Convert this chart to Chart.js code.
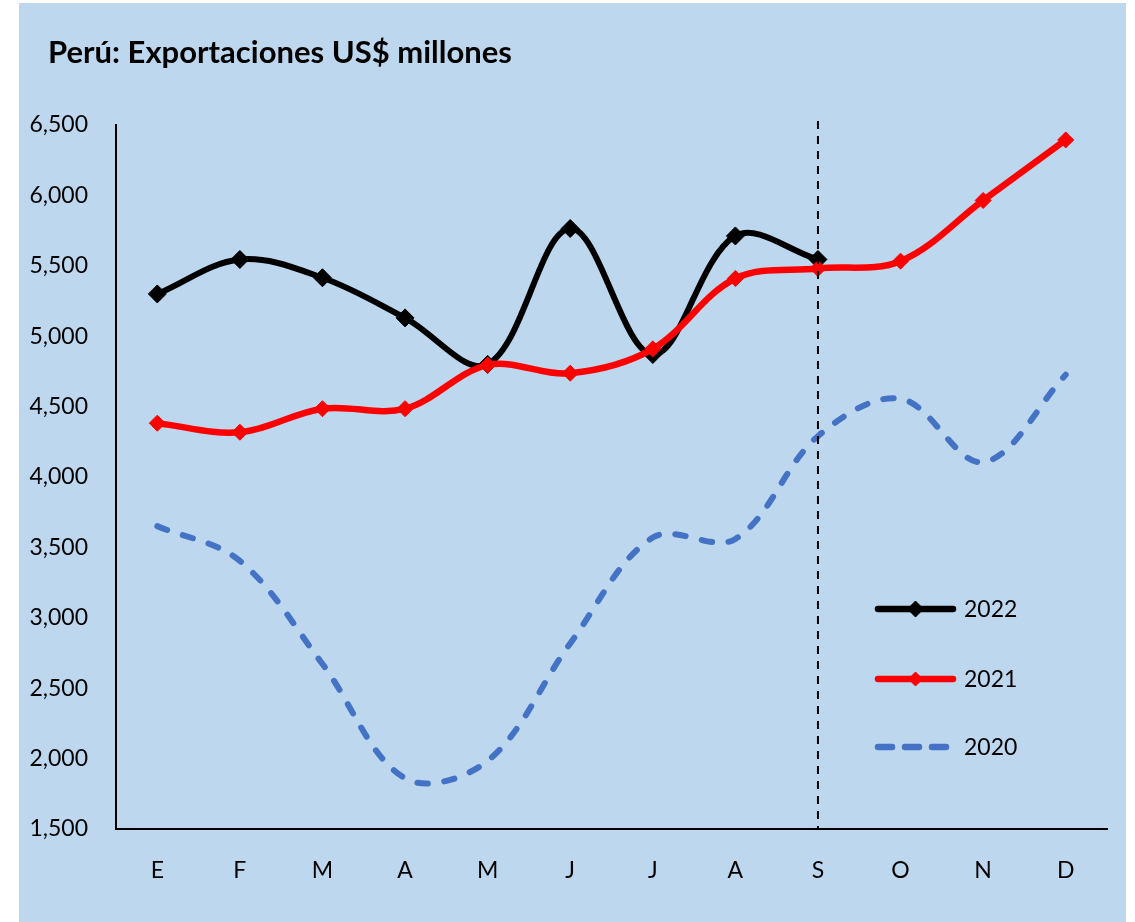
<!DOCTYPE html>
<html>
<head>
<meta charset="utf-8">
<script src="https://cdn.jsdelivr.net/npm/chart.js@4.4.1/dist/chart.umd.min.js"></script>
<style>
  html, body { margin: 0; padding: 0; background: #ffffff; }
  canvas { display: block; }
</style>
</head>
<body>
<canvas id="c" width="1135" height="922"></canvas>
<script>
// ---- data ----
const months = ['E', 'F', 'M', 'A', 'M', 'J', 'J', 'A', 'S', 'O', 'N', 'D'];
const exports2022 = [5300, 5545, 5415, 5130, 4800, 5765, 4870, 5712, 5545, null, null, null];
const exports2021 = [4382, 4318, 4485, 4485, 4795, 4737, 4910, 5410, 5481, 5533, 5964, 6394];
const exports2020 = [3651, 3404, 2672, 1860, 1984, 2818, 3570, 3560, 4290, 4556, 4105, 4726];
const seriesNames = ['2022', '2021', '2020'];
const yMin = 1500, yMax = 6500, yStep = 500;
const markerMonthIndex = 8; // S: último mes con datos 2022
const titleText = 'Perú: Exportaciones US$ millones';

const FONT = 'Lato, "Open Sans", "Liberation Sans", sans-serif';

const bgPlugin = {
  id: 'bg',
  beforeDraw(chart) {
    const ctx = chart.ctx;
    ctx.save();
    ctx.fillStyle = '#ffffff';
    ctx.fillRect(0, 0, chart.width, chart.height);
    ctx.fillStyle = '#BDD7EE';
    ctx.fillRect(19, 3, 1107, chart.height - 3);
    ctx.restore();
  }
};

const titlePlugin = {
  id: 'leftTitle',
  afterDraw(chart) {
    const ctx = chart.ctx;
    ctx.save();
    ctx.fillStyle = '#000000';
    ctx.font = 'bold 31px ' + FONT;
    ctx.textAlign = 'left';
    ctx.textBaseline = 'alphabetic';
    ctx.fillText(titleText, 48, 63);
    ctx.restore();
  }
};

const vlinePlugin = {
  id: 'vline',
  afterDatasetsDraw(chart) {
    const x = chart.scales.x.getPixelForTick(markerMonthIndex);
    const ctx = chart.ctx;
    ctx.save();
    ctx.strokeStyle = '#000000';
    ctx.lineWidth = 2;
    ctx.setLineDash([8, 7]);
    ctx.beginPath();
    ctx.moveTo(x, chart.chartArea.top - 4);
    ctx.lineTo(x, chart.chartArea.bottom);
    ctx.stroke();
    ctx.restore();
  }
};

function diamond(ctx, x, y, r, color) {
  ctx.save();
  ctx.fillStyle = color;
  ctx.strokeStyle = color;
  ctx.lineWidth = 1;
  ctx.setLineDash([]);
  ctx.beginPath();
  ctx.moveTo(x, y - r);
  ctx.lineTo(x + r, y);
  ctx.lineTo(x, y + r);
  ctx.lineTo(x - r, y);
  ctx.closePath();
  ctx.fill();
  ctx.stroke();
  ctx.restore();
}

const legendPlugin = {
  id: 'insideLegend',
  afterDraw(chart) {
    const ctx = chart.ctx;
    const area = chart.chartArea;
    const x1 = area.right - 232, x2 = area.right - 151, xt = area.right - 143;
    const rows = [area.top + 484, area.top + 554, area.top + 622];
    const legendDash = [[], [], [14, 13]];
    const legendR = [8, 7, 0];
    chart.data.datasets.forEach((ds, i) => {
      const y = rows[i];
      ctx.save();
      ctx.strokeStyle = ds.borderColor;
      ctx.lineWidth = 6.5;
      ctx.lineCap = 'round';
      ctx.setLineDash(legendDash[i]);
      ctx.beginPath();
      ctx.moveTo(x1 + 3, y);
      ctx.lineTo(x2 - 3, y);
      ctx.stroke();
      ctx.restore();
      if (legendR[i]) diamond(ctx, (x1 + x2) / 2, y, legendR[i], ds.borderColor);
      ctx.save();
      ctx.fillStyle = '#000000';
      ctx.font = '23px ' + FONT;
      ctx.textBaseline = 'middle';
      ctx.textAlign = 'left';
      ctx.fillText(ds.label, xt, y + 1);
      ctx.restore();
    });
  }
};

new Chart(document.getElementById('c'), {
  type: 'line',
  data: {
    labels: months,
    datasets: [
      {
        label: seriesNames[0],
        data: exports2022,
        borderColor: '#000000',
        backgroundColor: '#000000',
        borderWidth: 6,
        pointStyle: 'rectRot',
        pointRadius: 9,
        pointBorderWidth: 1,
        tension: 0.35,
        order: 1
      },
      {
        label: seriesNames[1],
        data: exports2021,
        borderColor: '#FF0000',
        backgroundColor: '#FF0000',
        borderWidth: 6.5,
        pointStyle: 'rectRot',
        pointRadius: 8,
        pointBorderWidth: 1,
        tension: 0.35,
        order: 0
      },
      {
        label: seriesNames[2],
        data: exports2020,
        borderColor: '#4472C4',
        backgroundColor: '#4472C4',
        borderWidth: 6,
        borderDash: [10.5, 16.5],
        borderCapStyle: 'round',
        pointRadius: 0,
        tension: 0.35,
        order: 2
      }
    ]
  },
  options: {
    responsive: false,
    animation: false,
    layout: { padding: { left: 20, right: 28, top: 125, bottom: 0 } },
    plugins: {
      legend: { display: false },
      tooltip: { enabled: false },
      title: { display: false }
    },
    scales: {
      x: {
        type: 'category',
        offset: true,
        grid: { display: false, drawTicks: false },
        border: { display: true, color: '#000000', width: 2 },
        ticks: { color: '#000000', font: { family: FONT, size: 23 }, padding: 28, maxRotation: 0, autoSkip: false },
        afterFit(scale) { scale.height = 93; }
      },
      y: {
        min: yMin,
        max: yMax,
        grid: { display: false, drawTicks: false },
        border: { display: true, color: '#000000', width: 2 },
        ticks: {
          stepSize: yStep,
          color: '#000000',
          font: { family: FONT, size: 23 },
          padding: 28,
          callback: (v) => Number(v).toLocaleString('en-US')
        },
        afterFit(scale) { scale.width = 96; }
      }
    }
  },
  plugins: [bgPlugin, vlinePlugin, legendPlugin, titlePlugin]
});
</script>
</body>
</html>
